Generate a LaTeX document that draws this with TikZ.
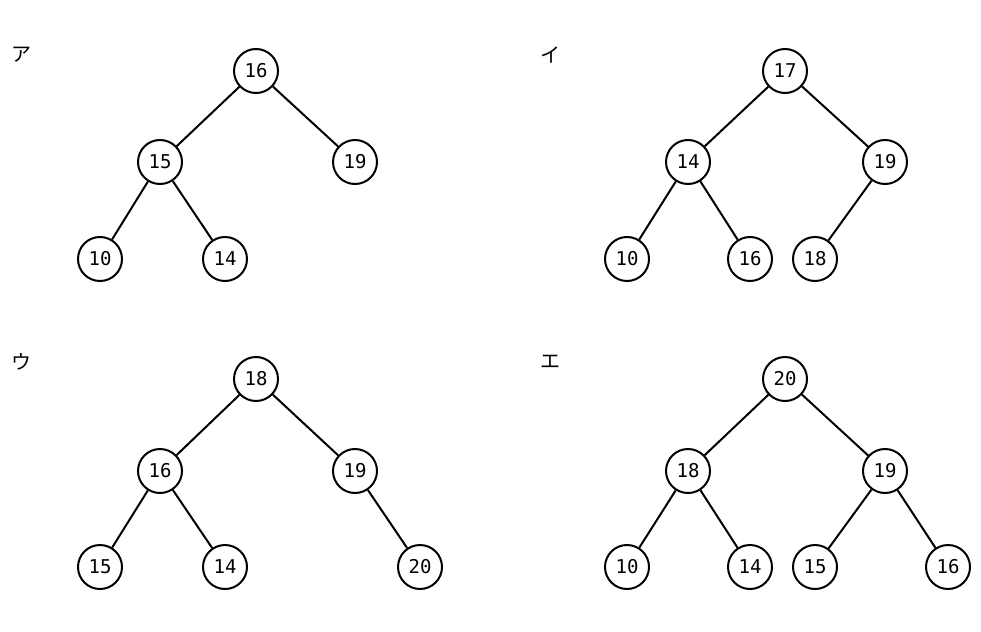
\documentclass[tikz,border=0pt]{standalone}
\usepackage{fontspec}
\setmonofont{DejaVu Sans Mono}
\newfontfamily\jp{Noto Sans CJK JP}
\begin{document}
\begin{tikzpicture}[x=1pt,y=-1pt,
  nd/.style={circle,draw,line width=2pt,minimum size=44pt,inner sep=0pt,font=\ttfamily\fontsize{19}{19}\selectfont},
  lbl/.style={font=\jp\fontsize{20}{20}\selectfont},
  every path/.style={line width=2pt}]
\useasboundingbox (0,0) rectangle (981,631);
\node[lbl] (la) at (22,55) {ア};
\node[lbl] (lb) at (550,55) {イ};
\node[lbl] (lc) at (22,362) {ウ};
\node[lbl] (ld) at (550,362) {エ};
% A
\node[nd] (a1) at (256,71) {16};
\node[nd] (a2) at (160,162) {15};
\node[nd] (a3) at (355,162) {19};
\node[nd] (a4) at (100,259) {10};
\node[nd] (a5) at (225,259) {14};
\draw (a1)--(a2) (a1)--(a3) (a2)--(a4) (a2)--(a5);
% B
\node[nd] (b1) at (785,71) {17};
\node[nd] (b2) at (688,162) {14};
\node[nd] (b3) at (885,162) {19};
\node[nd] (b4) at (627,259) {10};
\node[nd] (b5) at (750,259) {16};
\node[nd] (b6) at (815,259) {18};
\draw (b1)--(b2) (b1)--(b3) (b2)--(b4) (b2)--(b5) (b3)--(b6);
% C
\node[nd] (c1) at (256,379) {18};
\node[nd] (c2) at (160,471) {16};
\node[nd] (c3) at (355,471) {19};
\node[nd] (c4) at (100,567) {15};
\node[nd] (c5) at (225,567) {14};
\node[nd] (c6) at (420,567) {20};
\draw (c1)--(c2) (c1)--(c3) (c2)--(c4) (c2)--(c5) (c3)--(c6);
% D
\node[nd] (d1) at (785,379) {20};
\node[nd] (d2) at (688,471) {18};
\node[nd] (d3) at (885,471) {19};
\node[nd] (d4) at (627,567) {10};
\node[nd] (d5) at (750,567) {14};
\node[nd] (d6) at (815,567) {15};
\node[nd] (d7) at (948,567) {16};
\draw (d1)--(d2) (d1)--(d3) (d2)--(d4) (d2)--(d5) (d3)--(d6) (d3)--(d7);
\end{tikzpicture}
\end{document}
